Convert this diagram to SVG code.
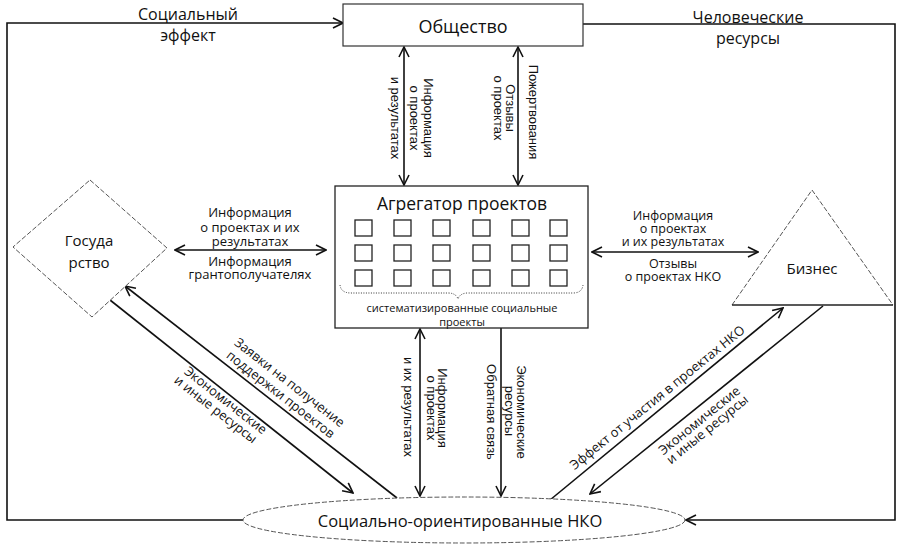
<svg xmlns="http://www.w3.org/2000/svg" width="901" height="544" viewBox="0 0 901 544">
<defs>
<style>
.t{font-family:"Open Sans","Noto Sans",sans-serif;fill:#111;text-anchor:middle;dominant-baseline:central}
.v{font-family:"Liberation Sans",Arial,sans-serif;fill:#111;text-anchor:middle;dominant-baseline:central;font-size:13px}
.c{fill:none;stroke:#111;stroke-width:1.6}
.dash{fill:#fff;stroke:#555;stroke-width:1;stroke-dasharray:5 2}
.sq{fill:#fff;stroke:#222;stroke-width:1.3}
</style>
<marker id="ah" viewBox="0 0 12 12" refX="11" refY="6" markerWidth="12" markerHeight="12" orient="auto-start-reverse" markerUnits="userSpaceOnUse">
<path d="M1,1 L11,6 L1,11" fill="none" stroke="#111" stroke-width="1.6"/>
</marker>
</defs>
<rect width="901" height="544" fill="#fff"/>

<g id="connectors">
<path class="c" d="M243,520 H7 V23 H343" marker-end="url(#ah)"/>
<path class="c" d="M583,24 H895 V520 H686" marker-end="url(#ah)"/>
<path class="c" d="M404,47 V185" marker-start="url(#ah)" marker-end="url(#ah)"/>
<path class="c" d="M518,47 V185" marker-start="url(#ah)" marker-end="url(#ah)"/>
<path class="c" d="M175,250 H326" marker-start="url(#ah)" marker-end="url(#ah)"/>
<path class="c" d="M592,252 H758" marker-start="url(#ah)" marker-end="url(#ah)"/>
<path class="c" d="M420,329 V496" marker-start="url(#ah)" marker-end="url(#ah)"/>
<path class="c" d="M501,328 V496" marker-end="url(#ah)"/>
<path class="c" d="M397,498 L125,286" marker-end="url(#ah)"/>
<path class="c" d="M110,300 L353,493" marker-end="url(#ah)"/>
<path class="c" d="M550,500 L783,308" marker-end="url(#ah)"/>
<path class="c" d="M823,306 L590,494" marker-end="url(#ah)"/>
</g>

<g id="labels">
<text class="t" x="188" y="14" font-size="16">Социальный</text>
<text class="t" x="188" y="35" font-size="16">эффект</text>
<text class="t" x="748" y="17" font-size="16">Человеческие</text>
<text class="t" x="748" y="38" font-size="16">ресурсы</text>

<text class="v" transform="translate(428,118) rotate(90)">Информация</text>
<text class="v" transform="translate(414,118) rotate(90)">о проектах</text>
<text class="v" transform="translate(395,118) rotate(90)">и результатах</text>
<text class="v" transform="translate(533,112) rotate(90)">Пожертвования</text>
<text class="v" transform="translate(510,108) rotate(90)">Отзывы</text>
<text class="v" transform="translate(498,108) rotate(90)">о проектах</text>

<text class="t" x="250" y="212" font-size="13">Информация</text>
<text class="t" x="250" y="227" font-size="13">о проектах и их</text>
<text class="t" x="250" y="241" font-size="13">результатах</text>
<text class="t" x="250" y="261" font-size="13">Информация</text>
<text class="t" x="250" y="274" font-size="13">грантополучателях</text>

<text class="t" x="673" y="215" font-size="12.5">Информация</text>
<text class="t" x="673" y="228" font-size="12.5">о проектах</text>
<text class="t" x="673" y="241" font-size="12.5">и их результатах</text>
<text class="t" x="673" y="263" font-size="12.5">Отзывы</text>
<text class="t" x="673" y="276" font-size="12.5">о проектах НКО</text>

<text class="v" transform="translate(442,408) rotate(90)">Информация</text>
<text class="v" transform="translate(431,408) rotate(90)">о проектах</text>
<text class="v" transform="translate(408,407) rotate(90)">и их результатах</text>
<text class="v" transform="translate(491,412) rotate(90)">Обратная связь</text>
<text class="v" transform="translate(521,412) rotate(90)">Экономические</text>
<text class="v" transform="translate(509,411) rotate(90)">ресурсы</text>

<text class="t" font-size="13" transform="translate(290,382) rotate(38)">Заявки на получение</text>
<text class="t" font-size="13" transform="translate(281,394) rotate(38)">поддержки проектов</text>
<text class="t" font-size="13" transform="translate(226,400) rotate(38)">Экономические</text>
<text class="t" font-size="13" transform="translate(216,409) rotate(38)">и иные ресурсы</text>

<text class="t" font-size="13" transform="translate(657,397) rotate(-39)">Эффект от участия в проектах НКО</text>
<text class="t" font-size="13" transform="translate(699,420) rotate(-39)">Экономические</text>
<text class="t" font-size="13" transform="translate(707,429) rotate(-39)">и иные ресурсы</text>
</g>

<g id="obshchestvo">
<rect x="343" y="4" width="240" height="42" fill="#fff" stroke="#333" stroke-width="1.2"/>
<text class="t" x="463" y="26" font-size="18">Общество</text>
</g>

<g id="agregator">
<rect x="335" y="186" width="253" height="142" fill="#fff" stroke="#222" stroke-width="1.3"/>
<text class="t" x="462" y="203" font-size="17.5">Агрегатор проектов</text>
<g>
<rect class="sq" x="355" y="220" width="17" height="16"/><rect class="sq" x="394" y="220" width="17" height="16"/><rect class="sq" x="433" y="220" width="17" height="16"/><rect class="sq" x="473" y="220" width="17" height="16"/><rect class="sq" x="512" y="220" width="17" height="16"/><rect class="sq" x="550" y="220" width="17" height="16"/>
<rect class="sq" x="355" y="245" width="17" height="16"/><rect class="sq" x="394" y="245" width="17" height="16"/><rect class="sq" x="433" y="245" width="17" height="16"/><rect class="sq" x="473" y="245" width="17" height="16"/><rect class="sq" x="512" y="245" width="17" height="16"/><rect class="sq" x="550" y="245" width="17" height="16"/>
<rect class="sq" x="355" y="270" width="17" height="16"/><rect class="sq" x="394" y="270" width="17" height="16"/><rect class="sq" x="433" y="270" width="17" height="16"/><rect class="sq" x="473" y="270" width="17" height="16"/><rect class="sq" x="512" y="270" width="17" height="16"/><rect class="sq" x="550" y="270" width="17" height="16"/>
</g>
<path d="M340,285 Q341,293 351,293 H448 Q456,293 458,299 Q460,293 468,293 H573 Q582,293 583,285" fill="none" stroke="#333" stroke-width="1" stroke-dasharray="1 1.5"/>
<text class="t" x="462" y="307" font-size="11">систематизированные социальные</text>
<text class="t" x="462" y="321" font-size="11">проекты</text>
</g>

<g id="gosudarstvo">
<polygon class="dash" points="90,180 167,248 92,317 13,247"/>
<text class="t" x="89" y="240" font-size="15">Госуда</text>
<text class="t" x="89" y="262" font-size="15">рство</text>
</g>

<g id="biznes">
<path d="M732,305 L812,190 L893,305" class="dash"/>
<path d="M732,305 H893" fill="none" stroke="#222" stroke-width="1.3"/>
<text class="t" x="812" y="268" font-size="15">Бизнес</text>
</g>

<g id="nko">
<ellipse class="dash" cx="464" cy="520" rx="221" ry="23"/>
<text class="t" x="460" y="520" font-size="16.5">Социально-ориентированные НКО</text>
</g>
</svg>
